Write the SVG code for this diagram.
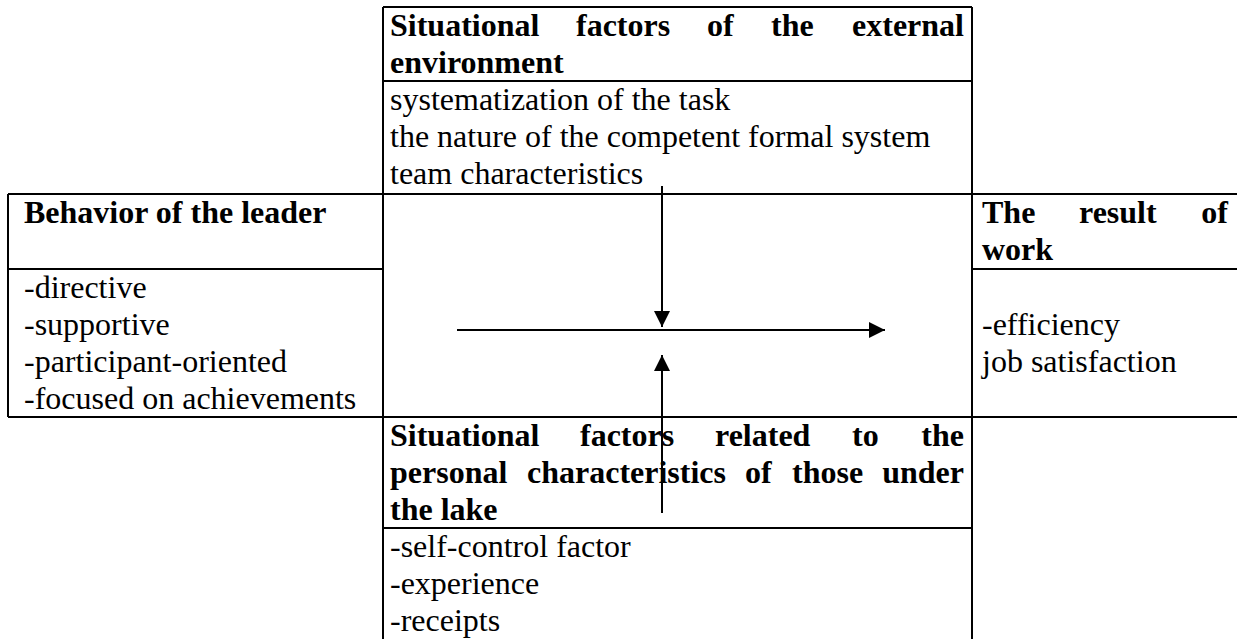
<svg xmlns="http://www.w3.org/2000/svg" width="1237" height="639" viewBox="0 0 1237 639">
<style>
  text { font-family: "Liberation Serif", "Times New Roman", serif; font-size: 32px; fill: #000; }
  .b { font-weight: bold; }
  .grid line { stroke: #000; stroke-width: 2; }
  .conn line { stroke: #000; stroke-width: 2; }
</style>
<defs>
  <marker id="ah" markerUnits="userSpaceOnUse" markerWidth="16" markerHeight="16" refX="16" refY="8" orient="auto">
    <path d="M0,0 L16,8 L0,16 Z" fill="#000"/>
  </marker>
</defs>
<rect width="1237" height="639" fill="#fff"/>
<g class="grid" id="grid">
  <line x1="383" y1="7" x2="972" y2="7"/>
  <line x1="383" y1="81" x2="972" y2="81"/>
  <line x1="8" y1="194" x2="1237" y2="194"/>
  <line x1="8" y1="269" x2="383" y2="269"/>
  <line x1="972" y1="269" x2="1237" y2="269"/>
  <line x1="8" y1="417" x2="1237" y2="417"/>
  <line x1="383" y1="528" x2="972" y2="528"/>
  <line x1="8" y1="194" x2="8" y2="417"/>
  <line x1="383" y1="7" x2="383" y2="639"/>
  <line x1="972" y1="7" x2="972" y2="639"/>
</g>
<g id="external-factors">
  <text class="b" x="390" y="36">Situational</text>
  <text class="b" x="576" y="36">factors</text>
  <text class="b" x="707" y="36">of</text>
  <text class="b" x="771" y="36">the</text>
  <text class="b" x="964" y="36" text-anchor="end">external</text>
  <text class="b" x="390" y="73">environment</text>
  <text x="390" y="110">systematization of the task</text>
  <text x="390" y="147">the nature of the competent formal system</text>
  <text x="390" y="184">team characteristics</text>
</g>
<g id="leader-behavior">
  <text class="b" x="24" y="223">Behavior of the leader</text>
  <text x="24" y="298">-directive</text>
  <text x="24" y="335">-supportive</text>
  <text x="24" y="372">-participant-oriented</text>
  <text x="24" y="409">-focused on achievements</text>
</g>
<g id="work-result">
  <text class="b" x="982" y="223">The</text>
  <text class="b" x="1079" y="223">result</text>
  <text class="b" x="1228" y="223" text-anchor="end">of</text>
  <text class="b" x="982" y="260">work</text>
  <text x="982" y="335">-efficiency</text>
  <text x="982" y="372">job satisfaction</text>
</g>
<g id="personal-factors">
  <text class="b" x="390" y="446">Situational</text>
  <text class="b" x="580" y="446">factors</text>
  <text class="b" x="715" y="446">related</text>
  <text class="b" x="852" y="446">to</text>
  <text class="b" x="964" y="446" text-anchor="end">the</text>
  <text class="b" x="390" y="483">personal</text>
  <text class="b" x="527" y="483">characteristics</text>
  <text class="b" x="745" y="483">of</text>
  <text class="b" x="792" y="483">those</text>
  <text class="b" x="964" y="483" text-anchor="end">under</text>
  <text class="b" x="390" y="520">the lake</text>
  <text x="390" y="557">-self-control factor</text>
  <text x="390" y="594">-experience</text>
  <text x="390" y="631">-receipts</text>
</g>
<g class="conn" id="connectors">
  <line x1="457" y1="330" x2="885" y2="330" marker-end="url(#ah)"/>
  <line x1="662" y1="186" x2="662" y2="327" marker-end="url(#ah)"/>
  <line x1="662" y1="513" x2="662" y2="355" marker-end="url(#ah)"/>
</g>
</svg>
